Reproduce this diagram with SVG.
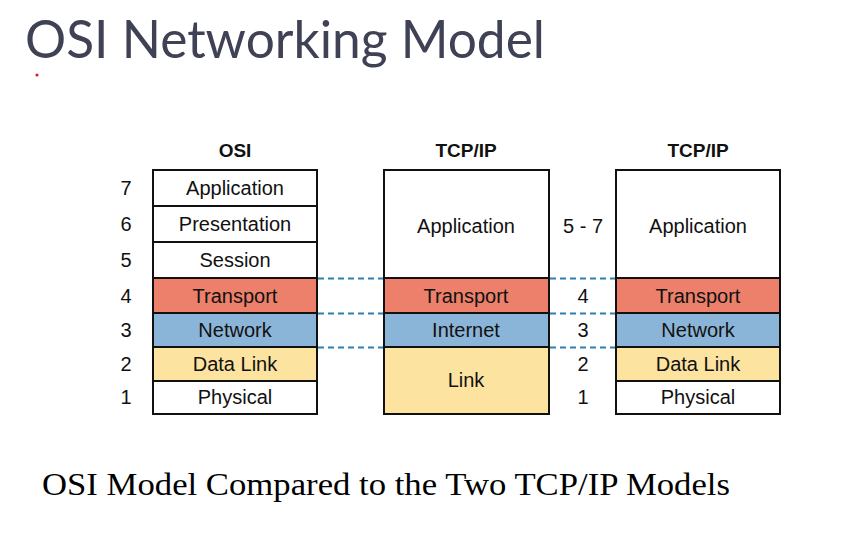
<svg xmlns="http://www.w3.org/2000/svg" width="843" height="535" viewBox="0 0 843 535">
  <style>
    .cell { stroke: #111; stroke-width: 2; }
    .white { fill: #ffffff; }
    .transport { fill: #ec806a; }
    .network { fill: #8bb5d8; }
    .datalink { fill: #fde3a0; }
    .lbl { font-family: "Liberation Sans", Arial, sans-serif; font-size: 20px; fill: #111; text-anchor: middle; dominant-baseline: central; }
    .hdr { font-family: "Liberation Sans", Arial, sans-serif; font-size: 19px; font-weight: bold; fill: #111; text-anchor: middle; }
    .dash { stroke: #2c80b4; stroke-width: 2; stroke-dasharray: 6 4; fill: none; }
  </style>
  <rect width="843" height="535" fill="#ffffff"/>

  <!-- Title -->
  <text x="25" y="58" font-family="Lato, 'Open Sans', sans-serif" font-size="52" fill="#3f4255" textLength="520" lengthAdjust="spacingAndGlyphs">OSI Networking Model</text>
  <circle cx="37" cy="75" r="1.6" fill="#e02020"/>

  <!-- Connectors: dashed layer boundaries -->
  <g id="connectors">
    <line class="dash" x1="318" y1="278.5" x2="384" y2="278.5"/>
    <line class="dash" x1="318" y1="313.5" x2="384" y2="313.5"/>
    <line class="dash" x1="318" y1="347.5" x2="384" y2="347.5"/>
    <line class="dash" x1="550" y1="278.5" x2="616" y2="278.5"/>
    <line class="dash" x1="550" y1="313.5" x2="616" y2="313.5"/>
    <line class="dash" x1="550" y1="347.5" x2="616" y2="347.5"/>
  </g>

  <!-- OSI model -->
  <g id="osi">
    <text class="hdr" x="235" y="157">OSI</text>
    <rect class="cell white" x="153" y="170" width="164" height="36"/>
    <rect class="cell white" x="153" y="206" width="164" height="36"/>
    <rect class="cell white" x="153" y="242" width="164" height="36"/>
    <rect class="cell transport" x="153" y="278" width="164" height="35"/>
    <rect class="cell network" x="153" y="313" width="164" height="34"/>
    <rect class="cell datalink" x="153" y="347" width="164" height="34"/>
    <rect class="cell white" x="153" y="381" width="164" height="33"/>
    <text class="lbl" x="235" y="188">Application</text>
    <text class="lbl" x="235" y="224">Presentation</text>
    <text class="lbl" x="235" y="260">Session</text>
    <text class="lbl" x="235" y="296">Transport</text>
    <text class="lbl" x="235" y="330">Network</text>
    <text class="lbl" x="235" y="364">Data Link</text>
    <text class="lbl" x="235" y="397">Physical</text>
    <text class="lbl" x="126" y="188">7</text>
    <text class="lbl" x="126" y="224">6</text>
    <text class="lbl" x="126" y="260">5</text>
    <text class="lbl" x="126" y="296">4</text>
    <text class="lbl" x="126" y="330">3</text>
    <text class="lbl" x="126" y="364">2</text>
    <text class="lbl" x="126" y="397">1</text>
  </g>

  <!-- Original TCP/IP model -->
  <g id="tcpip-original">
    <text class="hdr" x="466" y="157">TCP/IP</text>
    <rect class="cell white" x="384" y="170" width="165" height="108"/>
    <rect class="cell transport" x="384" y="278" width="165" height="35"/>
    <rect class="cell network" x="384" y="313" width="165" height="34"/>
    <rect class="cell datalink" x="384" y="347" width="165" height="67"/>
    <text class="lbl" x="466" y="226">Application</text>
    <text class="lbl" x="466" y="296">Transport</text>
    <text class="lbl" x="466" y="330">Internet</text>
    <text class="lbl" x="466" y="380">Link</text>
  </g>

  <!-- Layer numbers between TCP/IP models -->
  <g id="layer-numbers">
    <text class="lbl" x="583" y="226">5 - 7</text>
    <text class="lbl" x="583" y="296">4</text>
    <text class="lbl" x="583" y="330">3</text>
    <text class="lbl" x="583" y="364">2</text>
    <text class="lbl" x="583" y="397">1</text>
  </g>

  <!-- Updated TCP/IP model -->
  <g id="tcpip-updated">
    <text class="hdr" x="698" y="157">TCP/IP</text>
    <rect class="cell white" x="616" y="170" width="164" height="108"/>
    <rect class="cell transport" x="616" y="278" width="164" height="35"/>
    <rect class="cell network" x="616" y="313" width="164" height="34"/>
    <rect class="cell datalink" x="616" y="347" width="164" height="34"/>
    <rect class="cell white" x="616" y="381" width="164" height="33"/>
    <text class="lbl" x="698" y="226">Application</text>
    <text class="lbl" x="698" y="296">Transport</text>
    <text class="lbl" x="698" y="330">Network</text>
    <text class="lbl" x="698" y="364">Data Link</text>
    <text class="lbl" x="698" y="397">Physical</text>
  </g>

  <!-- Caption -->
  <text x="42" y="495" font-family="'Liberation Serif', 'Times New Roman', serif" font-size="32" fill="#000" textLength="688" lengthAdjust="spacingAndGlyphs">OSI Model Compared to the Two TCP/IP Models</text>
</svg>
